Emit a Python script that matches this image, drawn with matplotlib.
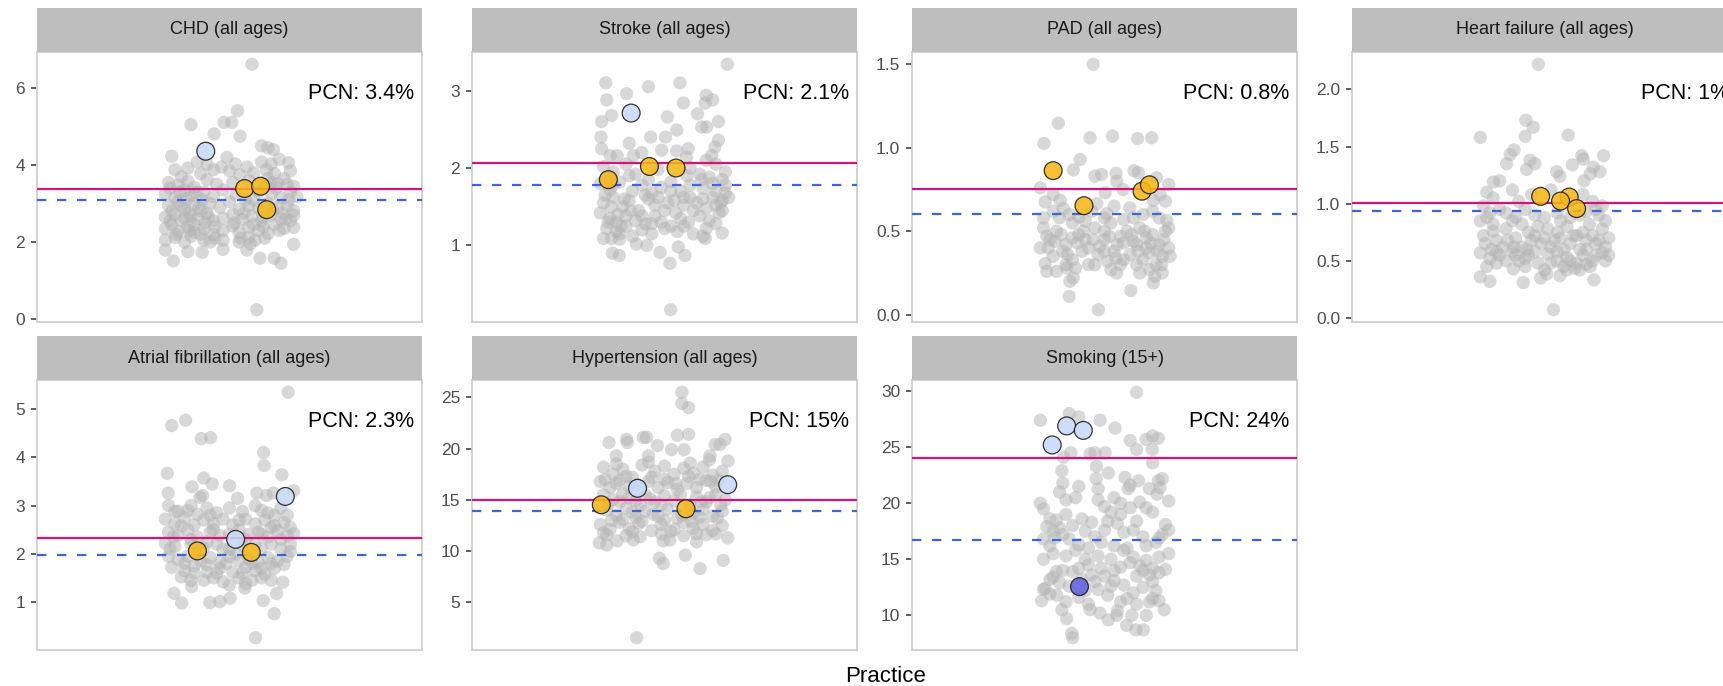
import matplotlib
matplotlib.use("Agg")
import matplotlib.pyplot as plt

plt.rcParams['font.family'] = ['Liberation Sans', 'DejaVu Sans']

W, H = 1723, 686
DPI = 100

titles = ["CHD (all ages)", "Stroke (all ages)", "PAD (all ages)", "Heart failure (all ages)",
          "Atrial fibrillation (all ages)", "Hypertension (all ages)", "Smoking (15+)"]
pcn_labels = ["PCN: 3.4%", "PCN: 2.1%", "PCN: 0.8%", "PCN: 1%", "PCN: 2.3%", "PCN: 15%", "PCN: 24%"]
pcn_values = [3.38, 2.07, 0.754, 1.009, 2.33, 14.95, 24.0]
national_values = [3.10, 1.78, 0.605, 0.936, 1.97, 13.9, 16.75]
yticks = [[0, 2, 4, 6], [1, 2, 3], [0.0, 0.5, 1.0, 1.5], [0.0, 0.5, 1.0, 1.5, 2.0],
          [1, 2, 3, 4, 5], [5, 10, 15, 20, 25], [10, 15, 20, 25, 30]]
ytick_labels = [["0", "2", "4", "6"], ["1", "2", "3"], ["0.0", "0.5", "1.0", "1.5"],
                ["0.0", "0.5", "1.0", "1.5", "2.0"], ["1", "2", "3", "4", "5"],
                ["5", "10", "15", "20", "25"], ["10", "15", "20", "25", "30"]]

# ---- gray points: (jitter offset, value) per panel ----
chd_grey = [(0.07,6.62),(0.025,5.41),(-0.12,5.05),(-0.017,5.11),(0.007,5.11),(-0.048,4.81),(0.033,4.75),(0.10,4.50),(0.12,4.45),(0.137,4.40),(-0.18,4.23),(-0.008,4.20),(0.184,4.06),(-0.10,4.08),(-0.07,4.02),(0.018,4.03),(0.054,3.95),(0.10,4.08),(0.13,4.03),
 (-0.17,3.88),(-0.13,3.92),(-0.09,3.78),(-0.05,3.88),(-0.025,3.95),(0.0,3.85),(0.033,3.75),(0.075,3.80),(0.115,3.88),(0.14,3.78),
 (-0.19,3.55),(-0.16,3.48),(-0.13,3.58),(-0.11,3.42),(-0.07,3.62),(-0.04,3.50),(0.01,3.55),(0.06,3.60),(0.12,3.65),(0.15,3.52),(0.18,3.50),(0.2,3.45),
 (-0.2,3.25),(-0.17,3.15),(-0.14,3.35),(-0.12,3.20),(-0.08,3.30),(-0.05,3.18),(-0.02,3.35),(0.02,3.22),(0.05,3.10),(0.09,3.30),(0.13,3.25),(0.16,3.15),(0.19,3.30),(0.21,3.18),
 (-0.19,2.95),(-0.16,3.05),(-0.14,2.85),(-0.11,2.98),(-0.09,2.82),(-0.06,3.0),(-0.03,2.9),(0.0,3.05),(0.03,2.85),(0.06,2.95),(0.09,2.88),(0.12,3.0),(0.15,2.9),(0.18,2.95),(0.20,2.82),
 (-0.20,2.65),(-0.17,2.72),(-0.15,2.55),(-0.12,2.68),(-0.1,2.6),(-0.07,2.75),(-0.05,2.55),(-0.02,2.62),(0.01,2.72),(0.04,2.58),(0.07,2.68),(0.1,2.55),(0.13,2.7),(0.16,2.6),(0.19,2.55),
 (-0.20,2.35),(-0.18,2.45),(-0.16,2.28),(-0.13,2.4),(-0.11,2.25),(-0.08,2.35),(-0.05,2.2),(-0.02,2.3),(0.01,2.42),(0.03,2.25),(0.06,2.38),(0.09,2.3),(0.12,2.22),(0.14,2.45),(0.17,2.35),(0.2,2.38),
 (-0.2,2.05),(-0.17,2.12),(-0.14,2.0),(-0.12,2.15),(-0.08,2.05),(-0.045,2.1),(-0.02,2.05),(0.03,2.0),(0.06,2.12),(0.08,2.05),(0.11,2.1),(0.2,1.94),
 (-0.20,1.79),(-0.175,1.51),(-0.13,1.75),(-0.085,1.73),(-0.02,1.81),(0.054,1.79),(0.095,1.58),(0.139,1.58),(0.16,1.45),(0.085,0.24),
 (-0.185,3.4),(-0.155,3.3),(-0.135,3.1),(-0.105,3.3),(-0.085,3.1),(-0.18,2.8),(-0.15,2.95),(-0.125,2.75),(-0.095,2.9),(-0.065,2.65),(-0.185,2.55),(-0.14,2.62),(-0.11,2.45),(-0.075,2.5),(-0.045,2.4),(-0.165,2.2),(-0.125,2.3),(-0.09,2.2),(0.075,2.45),(0.105,2.65),(0.135,2.85),(0.165,2.75),(0.185,3.1),(0.145,3.4),(0.11,3.45),(0.075,3.1),(0.045,2.75),(0.015,2.5),(0.105,2.4),(0.155,2.3),(0.175,2.6),(0.2,2.7),(0.035,2.1),(0.065,1.95),(-0.06,2.0),(0.13,3.55),(0.17,3.65),(0.19,3.85),(0.155,4.15),(-0.15,3.7)]

stroke_grey = [(0.196,3.34),(-0.183,3.10),(-0.05,3.05),(0.048,3.10),(-0.118,2.96),(-0.18,2.88),(0.059,2.84),(0.13,2.94),(0.15,2.88),(0.127,2.84),(-0.165,2.68),(0.009,2.66),(0.103,2.70),(-0.196,2.60),(0.168,2.60),(0.116,2.53),(0.131,2.53),(0.038,2.49),(-0.198,2.40),(-0.043,2.40),(0.003,2.40),(0.168,2.36),(-0.11,2.32),(-0.196,2.25),(-0.009,2.23),(0.038,2.22),(0.074,2.25),(0.157,2.27),(-0.169,2.16),(-0.148,2.16),(-0.097,2.16),(-0.071,2.20),(0.069,2.14),(0.147,2.16),
 (-0.19,2.02),(-0.16,1.95),(-0.12,2.05),(-0.09,1.92),(-0.02,1.98),(0.08,2.0),(0.11,1.92),(0.14,1.88),(0.18,1.85),(0.19,1.95),
 (-0.2,1.80),(-0.17,1.72),(-0.14,1.82),(-0.10,1.70),(-0.07,1.78),(-0.04,1.68),(-0.01,1.75),(0.02,1.82),(0.05,1.70),(0.08,1.78),(0.12,1.74),(0.16,1.70),(0.19,1.68),(0.2,1.62),
 (-0.19,1.55),(-0.16,1.62),(-0.13,1.50),(-0.11,1.58),(-0.08,1.45),(-0.05,1.60),(-0.03,1.52),(0.0,1.45),(0.03,1.58),(0.06,1.52),(0.08,1.62),(0.1,1.55),(0.13,1.48),(0.16,1.52),(0.18,1.58),
 (-0.2,1.42),(-0.17,1.35),(-0.15,1.30),(-0.12,1.38),(-0.09,1.32),(-0.06,1.28),(-0.03,1.38),(-0.01,1.30),(0.02,1.25),(0.05,1.35),(0.075,1.30),(0.11,1.38),(0.14,1.32),(0.17,1.42),
 (-0.18,1.22),(-0.15,1.18),(-0.12,1.25),(-0.07,1.20),(-0.04,1.15),(0.0,1.22),(0.04,1.18),(0.09,1.15),(0.13,1.22),
 (-0.19,1.09),(-0.165,1.09),(-0.14,1.08),(-0.088,1.02),(-0.055,1.0),(-0.014,0.91),(0.043,0.98),(0.127,1.09),(0.18,1.16),(-0.162,0.90),(-0.141,0.87),(0.017,0.77),(0.064,0.87),(0.019,0.17),
 (-0.185,1.65),(-0.165,1.5),(-0.145,1.4),(-0.125,1.6),(-0.105,1.45),(-0.175,1.3),(-0.135,1.25),(-0.07,1.38),(-0.04,1.28),(-0.02,1.62),(0.01,1.55),(0.035,1.42),(0.06,1.62),(0.09,1.45),(0.12,1.6),(0.15,1.62),(0.175,1.55),(0.19,1.78),(0.15,1.8),(0.115,1.85),(0.07,1.9),(-0.05,1.85),(-0.11,1.9),(-0.17,1.88),(0.16,2.05),(0.13,2.1),(-0.14,1.15),(-0.1,1.12),(0.06,1.25),(0.12,1.12),(0.16,1.28),(-0.06,1.65),(0.02,1.7),(-0.16,1.78),(0.18,1.45)]

pad_grey = [(-0.035,1.50),(-0.144,1.147),(-0.189,1.026),(-0.045,1.06),(0.025,1.07),(0.103,1.055),(0.147,1.06),(-0.076,0.93),(-0.097,0.867),(-0.03,0.83),(-0.009,0.84),(0.036,0.847),(0.092,0.863),(0.106,0.85),(0.038,0.80),(0.162,0.82),(0.2,0.78),
 (-0.2,0.76),(-0.185,0.675),(-0.16,0.72),(-0.138,0.685),(0.002,0.73),(0.058,0.75),(-0.024,0.665),(0.007,0.605),(-0.08,0.585),(-0.128,0.635),(0.079,0.64),(0.152,0.685),(0.173,0.72),(0.194,0.565),
 (-0.19,0.52),(-0.17,0.45),(-0.15,0.50),(-0.12,0.42),(-0.10,0.55),(-0.08,0.48),(-0.05,0.40),(-0.03,0.52),(0.0,0.45),(0.02,0.55),(0.04,0.42),(0.07,0.50),(0.09,0.44),(0.11,0.52),(0.13,0.40),(0.15,0.48),(0.17,0.42),(0.19,0.50),
 (-0.20,0.40),(-0.16,0.35),(-0.13,0.38),(-0.10,0.33),(-0.07,0.38),(-0.05,0.30),(-0.02,0.36),(0.01,0.32),(0.03,0.38),(0.05,0.30),(0.08,0.36),(0.10,0.42),(0.12,0.33),(0.14,0.37),(0.16,0.30),(0.18,0.35),(0.2,0.40),
 (-0.14,0.58),(-0.11,0.60),(-0.06,0.56),(0.0,0.58),(0.06,0.57),(0.12,0.60),(0.17,0.58),(-0.18,0.47),(0.0,0.5),(0.13,0.46),(-0.06,0.45),(0.05,0.47),(-0.09,0.28),(0.02,0.27),(0.1,0.3),
 (-0.185,0.307),(-0.18,0.26),(-0.118,0.28),(-0.108,0.20),(-0.097,0.22),(-0.11,0.11),(0.038,0.25),(0.082,0.145),(0.152,0.19),(0.157,0.23),(-0.019,0.03),(0.178,0.30),(0.204,0.35),
 (-0.175,0.4),(-0.155,0.44),(-0.135,0.48),(-0.115,0.36),(-0.085,0.43),(-0.065,0.5),(-0.035,0.45),(-0.015,0.41),(0.015,0.47),(0.035,0.34),(0.06,0.43),(0.085,0.48),(0.105,0.38),(0.125,0.5),(0.145,0.43),(0.165,0.38),(0.185,0.45),(0.2,0.52),(-0.19,0.58),(-0.16,0.62),(-0.04,0.62),(0.03,0.65),(0.09,0.58),(0.15,0.62),(0.19,0.68),(-0.12,0.3),(-0.03,0.3),(0.06,0.33),(0.14,0.27),(0.18,0.25),(-0.15,0.26),(0.11,0.25),(0.0,0.38),(-0.1,0.46)]

hf_grey = [(-0.019,2.22),(-0.058,1.73),(-0.035,1.67),(-0.06,1.59),(-0.2,1.58),(0.074,1.60),
 (-0.095,1.47),(-0.107,1.43),(-0.118,1.35),(-0.045,1.38),(-0.03,1.35),(0.116,1.42),(0.121,1.39),(0.184,1.42),(0.087,1.34),(0.152,1.32),(0.173,1.28),(0.038,1.28),(0.048,1.24),(-0.056,1.30),(-0.14,1.20),(-0.159,1.19),(0.123,1.20),(0.142,1.26),
 (-0.18,1.10),(-0.16,1.05),(-0.10,1.12),(-0.08,1.02),(-0.04,1.08),(0.02,1.12),(0.12,1.08),(0.15,1.02),(0.18,0.98),(-0.19,0.98),(-0.17,0.92),(-0.14,0.95),(-0.09,0.88),(-0.06,0.95),(-0.03,0.90),(0.04,0.92),(0.08,0.88),(0.13,0.93),(0.17,0.90),(0.19,0.85),
 (-0.2,0.85),(-0.16,0.82),(-0.12,0.78),(-0.10,0.85),(-0.05,0.75),(-0.02,0.80),(0.01,0.78),(0.04,0.75),(0.07,0.80),(0.10,0.72),(0.14,0.82),(0.18,0.78),
 (-0.19,0.72),(-0.15,0.68),(-0.13,0.62),(-0.09,0.70),(-0.07,0.62),(-0.04,0.68),(-0.01,0.65),(0.02,0.62),(0.05,0.70),(0.08,0.65),(0.11,0.60),(0.13,0.68),(0.16,0.65),(0.19,0.62),
 (-0.2,0.57),(-0.17,0.52),(-0.14,0.55),(-0.10,0.58),(-0.08,0.50),(-0.05,0.55),(-0.02,0.48),(0.01,0.56),(0.04,0.50),(0.07,0.53),(0.10,0.48),(0.12,0.55),(0.15,0.50),(0.18,0.57),(0.2,0.55),
 (-0.18,0.45),(-0.15,0.48),(-0.06,0.45),(0.0,0.42),(0.06,0.45),(0.11,0.42),
 (-0.2,0.36),(-0.17,0.32),(-0.097,0.43),(-0.066,0.31),(-0.012,0.35),(0.007,0.385),(0.048,0.37),(0.069,0.42),(0.095,0.435),(0.142,0.45),(0.154,0.333),(0.028,0.072),
 (-0.185,0.65),(-0.165,0.6),(-0.115,0.68),(-0.095,0.62),(-0.055,0.6),(-0.03,0.72),(0.0,0.7),(0.03,0.68),(0.06,0.6),(0.09,0.72),(0.12,0.75),(0.15,0.72),(0.17,0.68),(0.2,0.7),(-0.15,0.58),(-0.12,0.5),(-0.06,0.52),(-0.03,0.58),(0.02,0.48),(0.08,0.5),(0.13,0.47),(0.16,0.55),(0.19,0.5),(-0.18,0.88),(-0.12,0.92),(-0.07,0.82),(0.0,0.88),(0.05,0.85),(0.11,0.9),(0.16,0.95),(-0.16,0.76),(0.13,0.6),(-0.09,0.55),(0.04,0.58)]

af_grey = [(0.183,5.35),(-0.18,4.66),(-0.137,4.77),(-0.088,4.39),(-0.059,4.41),(0.106,4.10),(0.108,3.83),(0.163,3.64),(-0.194,3.67),(-0.08,3.57),(-0.054,3.45),(-0.117,3.39),(0.0,3.41),(-0.191,3.26),(0.085,3.26),(0.2,3.31),(-0.084,3.21),(-0.092,3.17),(0.025,3.15),(0.115,3.21),(0.137,3.26),
 (-0.19,3.0),(-0.16,2.88),(-0.12,3.0),(-0.10,2.82),(-0.07,2.95),(-0.04,2.85),(0.0,2.95),(0.04,2.88),(0.08,3.0),(0.12,2.85),(0.16,2.95),
 (-0.2,2.72),(-0.17,2.62),(-0.14,2.75),(-0.11,2.6),(-0.08,2.7),(-0.05,2.62),(-0.02,2.72),(0.01,2.6),(0.05,2.72),(0.08,2.62),(0.11,2.7),(0.14,2.58),(0.17,2.65),(0.19,2.55),
 (-0.19,2.45),(-0.16,2.38),(-0.13,2.5),(-0.10,2.35),(-0.06,2.45),(-0.03,2.38),(0.03,2.5),(0.06,2.4),(0.09,2.45),(0.12,2.35),(0.15,2.48),(0.18,2.38),(0.2,2.42),
 (-0.2,2.22),(-0.17,2.15),(-0.12,2.2),(-0.08,2.12),(-0.04,2.2),(0.0,2.1),(0.04,2.18),(0.1,2.12),(0.13,2.2),(0.16,2.1),(0.19,2.05),
 (-0.19,1.95),(-0.16,1.88),(-0.13,1.95),(-0.09,1.85),(-0.06,1.92),(-0.03,1.82),(0.0,1.95),(0.03,1.85),(0.06,1.9),(0.09,1.82),(0.12,1.92),(0.15,1.85),(0.18,1.95),
 (-0.18,1.72),(-0.14,1.65),(-0.11,1.75),(-0.07,1.62),(-0.03,1.7),(0.01,1.62),(0.05,1.72),(0.08,1.65),(0.11,1.58),(0.14,1.7),
 (-0.15,1.52),(-0.12,1.45),(-0.05,1.5),(-0.02,1.42),(0.03,1.5),(0.07,1.45),(0.1,1.5),(0.13,1.45),
 (-0.173,1.18),(-0.149,0.98),(-0.118,1.32),(-0.061,0.99),(-0.03,1.01),(0.002,1.08),(0.048,1.29),(0.105,1.03),(0.147,1.18),(0.166,1.41),(0.139,0.76),(0.081,0.26),
 (-0.185,2.1),(-0.175,2.35),(-0.15,2.58),(-0.12,2.3),(-0.1,2.05),(-0.07,2.25),(-0.05,2.5),(-0.02,2.1),(0.0,2.4),(0.02,2.0),(0.05,2.3),(0.08,2.2),(0.1,2.4),(0.13,2.55),(0.16,2.3),(0.19,2.2),(-0.14,1.8),(-0.11,1.6),(-0.07,1.78),(-0.04,1.6),(-0.01,1.8),(0.04,1.6),(0.07,1.8),(0.1,1.7),(0.13,1.8),(0.17,1.78),(-0.08,1.45),(0.0,1.35),(0.05,1.38),(-0.17,2.88),(-0.06,2.8),(0.03,2.7),(0.1,2.9),(0.14,2.8),(0.18,2.8),(-0.13,2.9)]

htn_grey = [(0.054,25.5),(0.054,24.4),(0.075,24.0),
 (-0.173,20.6),(-0.118,20.9),(-0.116,20.6),(-0.066,21.1),(-0.056,21.1),(0.04,21.3),(0.075,21.4),(-0.022,20.3),(0.022,19.9),(0.061,19.9),(0.158,20.4),(0.173,20.4),(0.189,20.9),(0.142,19.3),(0.198,18.8),(-0.150,19.3),(-0.05,19.3),
 (-0.19,18.2),(-0.16,17.5),(-0.13,18.0),(-0.10,17.2),(-0.07,18.4),(-0.03,17.8),(0.0,18.3),(0.03,17.5),(0.06,18.1),(0.09,17.6),(0.12,18.2),(0.15,17.4),(0.18,17.8),
 (-0.2,16.8),(-0.17,16.2),(-0.14,16.9),(-0.11,16.3),(-0.05,16.8),(-0.02,16.2),(0.01,16.7),(0.04,16.0),(0.07,16.6),(0.10,16.2),(0.13,16.9),(0.16,16.3),
 (-0.19,15.5),(-0.16,15.0),(-0.13,15.6),(-0.09,14.9),(-0.06,15.5),(-0.03,14.8),(0.0,15.4),(0.03,14.9),(0.1,15.3),(0.13,14.8),(0.16,15.5),(0.19,15.0),
 (-0.18,14.0),(-0.15,13.5),(-0.12,14.2),(-0.09,13.3),(-0.06,13.9),(-0.02,13.4),(0.01,14.1),(0.04,13.2),(0.09,13.7),(0.12,14.1),(0.15,13.4),(0.18,13.9),
 (-0.2,12.6),(-0.17,12.1),(-0.14,12.8),(-0.11,12.2),(-0.08,12.7),(-0.04,12.0),(-0.01,12.6),(0.03,12.1),(0.06,12.8),(0.09,12.2),(0.12,12.6),(0.15,12.0),(0.18,12.5),
 (-0.18,11.6),(-0.12,11.5),(-0.01,11.7),(0.06,11.5),(0.13,11.6),
 (-0.203,10.8),(-0.18,10.6),(-0.148,11.0),(-0.097,11.1),(-0.076,11.4),(-0.016,9.3),(-0.004,8.8),(-0.004,11.0),(0.017,11.1),(0.065,9.6),(0.111,8.3),(0.183,9.1),(0.197,11.3),(0.1,10.9),(-0.087,1.55),
 (-0.185,17.0),(-0.15,16.6),(-0.12,17.3),(-0.085,16.5),(-0.04,17.2),(0.0,17.0),(0.035,16.6),(0.075,17.3),(0.11,17.0),(0.145,16.8),(0.17,16.9),(-0.175,14.6),(-0.14,14.8),(-0.11,15.2),(-0.075,14.5),(-0.045,15.1),(-0.01,14.5),(0.05,15.5),(0.08,14.5),(0.115,14.8),(0.14,15.2),(0.175,14.5),(-0.165,13.0),(-0.13,13.1),(-0.1,13.8),(-0.07,12.9),(-0.035,13.6),(0.0,13.0),(0.055,13.5),(0.085,12.9),(0.11,13.3),(0.165,13.2),(-0.19,11.8),(-0.1,11.9),(0.02,11.9),(0.1,11.7),(0.16,11.7),(-0.15,18.5),(0.08,18.6),(-0.05,18.7),(0.14,18.9)]

smoking_grey = [(0.1,29.9),(-0.2,27.4),(-0.11,28.0),(-0.08,27.7),(-0.014,27.4),(0.033,26.7),(0.08,25.6),(0.1,24.8),(0.130,25.7),(0.150,26.0),(0.168,25.8),(0.149,24.8),
 (-0.105,24.5),(-0.128,24.1),(-0.045,24.4),(-0.03,24.5),(0.002,24.5),(-0.025,23.3),(-0.133,22.9),(0.012,22.7),(-0.026,22.2),(0.064,22.3),(0.074,21.3),(0.106,22.0),(0.15,23.6),(0.168,22.0),(0.173,21.4),(0.164,20.8),(0.2,20.2),
 (-0.13,21.8),(-0.14,21.0),(-0.12,20.3),(-0.08,21.5),(-0.09,20.5),(-0.2,20.0),(-0.19,19.5),(-0.15,18.5),(-0.14,17.8),(-0.13,17.2),(-0.1,18.0),(-0.07,18.6),(-0.06,17.5),(-0.04,18.3),(-0.02,20.3),(0.0,19.7),(0.02,19.2),(0.03,20.5),(0.05,19.0),(0.04,18.2),(0.06,17.4),(0.0,17.6),(-0.01,16.5),(0.03,16.2),(0.07,16.0),(0.1,18.4),(0.13,19.6),(0.15,19.2),(0.19,18.1),(0.18,17.2),(0.16,16.5),(0.12,17.0),
 (-0.19,16.8),(-0.17,16.2),(-0.19,15.0),(-0.16,15.5),(-0.12,15.3),(-0.09,15.8),(-0.06,15.0),(-0.08,14.2),(-0.05,14.5),(-0.02,15.3),(0.02,15.0),(0.05,14.3),(0.08,14.7),(0.11,14.4),(0.13,14.9),(0.15,14.2),(0.17,15.2),(0.19,14.1),(0.14,13.6),
 (-0.16,13.4),(-0.15,13.9),(-0.13,14.0),(-0.11,12.6),(-0.07,13.2),(-0.03,13.0),(0.0,13.5),(0.03,13.1),(0.06,12.7),(0.1,13.5),(0.12,12.5),(0.15,13.0),(0.16,12.2),
 (-0.19,12.3),(-0.17,11.9),(-0.08,11.6),(-0.05,11.0),(-0.02,12.3),(0.01,11.8),(0.07,11.5),(0.09,12.0),(0.14,11.2),
 (-0.196,11.3),(-0.185,12.4),(-0.149,11.8),(-0.133,10.5),(-0.118,9.7),(-0.102,8.4),(-0.099,8.0),(-0.045,10.5),(-0.014,10.2),(0.012,9.6),(0.038,10.0),(0.069,9.1),(0.085,10.0),(0.098,8.7),(0.121,8.7),(0.13,10.0),(0.186,10.5),(0.15,11.5),
 (-0.17,18.6),(-0.16,17.5),(-0.155,16.9),(-0.11,16.8),(-0.08,16.3),(-0.05,16.0),(-0.03,17.0),(0.01,18.4),(0.05,20.0),(0.08,19.6),(0.11,20.1),(0.09,17.6),(0.13,16.2),(0.17,16.9),(0.2,17.6),(0.2,15.5),(0.17,13.8),(0.12,14.0),(0.09,15.2),(0.06,15.8),(0.03,14.0),(-0.01,14.2),(-0.04,13.6),(-0.1,13.9),(-0.14,12.9),(-0.17,13.2),(-0.12,11.2),(-0.06,12.2),(0.02,12.6),(0.05,11.2),(0.1,11.0),(0.17,11.3),(0.04,10.4),(-0.02,21.3),(0.08,21.6),(0.14,21.3),(0.18,22.2),(-0.12,19.0),(-0.18,17.9)]

grey_points = [chd_grey, stroke_grey, pad_grey, hf_grey, af_grey, htn_grey, smoking_grey]

# ---- highlighted practices in the PCN: (offset, value, category) ----
chd_pcn = [(0.047,3.39,"similar"),(0.097,3.45,"similar"),(0.116,2.84,"similar"),(-0.074,4.36,"higher")]
stroke_pcn = [(-0.175,1.85,"similar"),(-0.047,2.02,"similar"),(0.036,2.00,"similar"),(-0.104,2.71,"higher")]
pad_pcn = [(-0.16,0.863,"similar"),(-0.064,0.653,"similar"),(0.117,0.74,"similar"),(0.14,0.778,"similar")]
hf_pcn = [(-0.012,1.064,"similar"),(0.077,1.058,"similar"),(0.05,1.023,"similar"),(0.1,0.957,"similar")]
af_pcn = [(-0.1,2.06,"similar"),(0.068,2.03,"similar"),(0.174,3.19,"higher"),(0.019,2.30,"higher")]
htn_pcn = [(-0.197,14.52,"similar"),(0.067,14.13,"similar"),(-0.084,16.13,"higher"),(0.197,16.48,"higher")]
smoking_pcn = [(-0.163,25.2,"higher"),(-0.118,26.9,"higher"),(-0.066,26.5,"higher"),(-0.078,12.56,"lower")]
pcn_points = [chd_pcn, stroke_pcn, pad_pcn, hf_pcn, af_pcn, htn_pcn, smoking_pcn]

cat_colors = {"similar": "#F5B71A", "higher": "#C8DAF9", "lower": "#5F5FDD"}

# ---- layout (pixels) ----
col_left = [37, 472, 912, 1352]
panel_w = 385
row_top = [52, 380]
panel_h = 270
strip_h = 44

fig = plt.figure(figsize=(W / DPI, H / DPI), dpi=DPI)
fig.patch.set_facecolor("white")

for i in range(7):
    r, c = divmod(i, 4)
    left = col_left[c]
    top = row_top[r]
    ax = fig.add_axes([left / W, 1 - (top + panel_h) / H, panel_w / W, panel_h / H])
    sax = fig.add_axes([left / W, 1 - top / H, panel_w / W, strip_h / H])
    sax.set_facecolor("#BEBEBE")
    sax.set_xticks([]); sax.set_yticks([])
    for s in sax.spines.values():
        s.set_visible(False)
    sax.text(0.5, 0.5, titles[i], ha="center", va="center", fontsize=13, color="#1A1A1A",
             transform=sax.transAxes)

    gx = [1 + p[0] for p in grey_points[i]]
    gy = [p[1] for p in grey_points[i]]
    ax.scatter(gx, gy, s=92, color="#B3B3B3", alpha=0.5, edgecolors="none", zorder=2)

    ax.axhline(pcn_values[i], color="#D4147A", lw=1.6, zorder=3)
    ax.axhline(national_values[i], color="#3F66D9", lw=1.6, linestyle=(0, (4.2, 4.8)), zorder=3)

    hx = [1 + p[0] for p in pcn_points[i]]
    hy = [p[1] for p in pcn_points[i]]
    hc = [cat_colors[p[2]] for p in pcn_points[i]]
    ax.scatter(hx, hy, s=165, c=hc, alpha=0.88, edgecolors="#1A1A1A", linewidths=0.9, zorder=4)

    allv = gy + hy
    lo, hi = min(allv), max(allv)
    pad = (hi - lo) * 0.05
    ax.set_ylim(lo - pad, hi + pad)
    ax.set_xlim(0.4, 1.6)
    ax.set_xticks([])
    ax.set_yticks(yticks[i])
    ax.set_yticklabels(ytick_labels[i])
    ax.tick_params(axis="y", length=4.5, width=1.1, color="#333333", labelcolor="#4D4D4D",
                   labelsize=12.5, pad=4)
    for s in ax.spines.values():
        s.set_color("#CFCFCF")
        s.set_linewidth(1.3)
    ax.text(0.979, 0.848, pcn_labels[i], ha="right", va="center", fontsize=15.5,
            color="black", transform=ax.transAxes, zorder=5)

fig.text(886 / W, 1 - 676 / H, "Practice", ha="center", va="center", fontsize=16, color="black")

fig.savefig("out.png", dpi=DPI, facecolor="white")
